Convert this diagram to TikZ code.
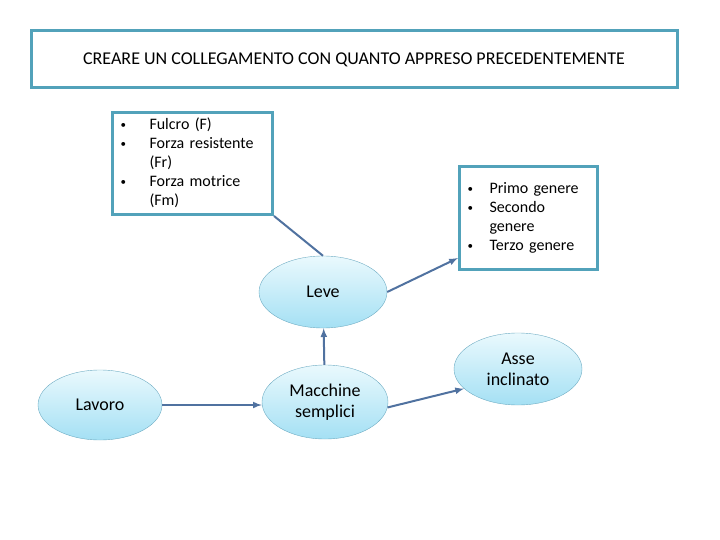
\documentclass[tikz,border=0pt]{standalone}
\usepackage{fontspec}
\setmainfont{Carlito}
\usetikzlibrary{shapes.geometric}

\definecolor{boxline}{RGB}{82,162,186}
\definecolor{linkline}{RGB}{80,114,160}
\definecolor{ovaltop}{RGB}{234,249,253}
\definecolor{ovalbottom}{RGB}{164,224,244}
\definecolor{ovalline}{RGB}{110,172,195}

\newcommand{\punto}{\raisebox{1pt}{\fontsize{11}{11}\selectfont •}}

\begin{document}
\begin{tikzpicture}[x=1pt,y=-1pt,>=latex,
  titlebox/.style={draw=boxline,line width=3pt,minimum width=646pt,minimum height=57pt,font=\fontsize{18}{21}\selectfont},
  listbox/.style={draw=boxline,line width=3pt,fill=white,align=left,inner xsep=8pt,anchor=north west,font=\fontsize{16}{19}\selectfont},
  oval/.style={ellipse,draw=ovalline,top color=ovaltop,bottom color=ovalbottom,minimum width=128pt,minimum height=72pt,align=center,font=\fontsize{18}{21}\selectfont},
  link/.style={draw=linkline,line width=2pt}]
\useasboundingbox (0,0) rectangle (720,540);

\node[titlebox] (titolo) at (354,59.5) {CREARE UN COLLEGAMENTO CON QUANTO APPRESO PRECEDENTEMENTE};

\node[listbox,minimum width=160pt,minimum height=102pt,text width=144pt] (forze) at (111,111)
  {\begin{tabular}{@{}p{29pt}@{}l@{}}
   \punto & Fulcro (F)\\
   \punto & Forza resistente\\
     & (Fr)\\
   \punto & Forza motrice\\
     & (Fm)
   \end{tabular}};
\node[listbox,minimum width=138pt,minimum height=103pt,text width=122pt] (generi) at (458,165)
  {\begin{tabular}{@{}p{22pt}@{}l@{}}
   \punto & Primo genere\\
   \punto & Secondo\\
     & genere\\
   \punto & Terzo genere
   \end{tabular}};

\node[oval] (leve) at (323,292) {Leve};
\node[oval,minimum width=124pt,minimum height=70pt] (lavoro) at (100,405) {Lavoro};
\node[oval,minimum width=126pt,minimum height=74pt] (macchine) at (325,402) {Macchine\\semplici};
\node[oval] (asse) at (518,369) {Asse\\inclinato};

\draw[link,->] (lavoro.east) -- (lavoro.east -| macchine.west);
\draw[link,->] (macchine) -- (leve);
\draw[link] (leve.north) -- (forze.south east);
\draw[link,->] (leve.east) -- ([yshift=13pt]generi.south west);
\draw[link,->] (macchine.-5) -- (asse.200);
\end{tikzpicture}
\end{document}
